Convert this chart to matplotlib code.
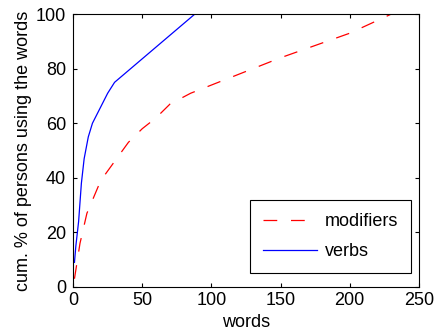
import matplotlib
matplotlib.use("Agg")
import matplotlib.pyplot as plt

# veriler
verbs_x = [1, 2, 4, 6, 8, 11, 14, 17, 20, 25, 30, 88]
verbs_y = [9, 15, 24, 38, 47, 55, 60, 63, 66, 71, 75, 100]

mod_x = [1, 5, 10, 20, 30, 40, 50, 60, 70, 85, 100, 150, 200, 230]
mod_y = [3, 16, 27, 39, 46, 53, 58, 62, 67, 71, 74, 84, 93, 100]

x_ticks = [0, 50, 100, 150, 200, 250]
y_ticks = [0, 20, 40, 60, 80, 100]

plt.rcParams['font.family'] = ['Liberation Sans', 'DejaVu Sans']

fig = plt.figure(figsize=(4.35, 3.36), dpi=100)
ax = fig.add_axes([0.168, 0.146, 0.795, 0.812])

ax.plot(mod_x, mod_y, color='red', linestyle=(0, (11, 11)), linewidth=0.9, label='modifiers')
ax.plot(verbs_x, verbs_y, color='blue', linewidth=0.9, label='verbs')

ax.set_xlim(0, 250)
ax.set_ylim(0, 100)
ax.set_xticks(x_ticks)
ax.set_yticks(y_ticks)
ax.tick_params(direction='in', top=True, right=True, labelsize=13, length=3)
ax.tick_params(axis='x', pad=4)
ax.tick_params(axis='y', pad=5)

ax.set_xlabel('words', fontsize=13, labelpad=3)
ax.set_ylabel('cum. % of persons using the words', fontsize=13, labelpad=3)

leg = ax.legend(loc='lower right', bbox_to_anchor=(0.977, 0.051), borderaxespad=0,
                fontsize=13, fancybox=False, edgecolor='black', framealpha=1,
                handlelength=3.0, handletextpad=0.45, labelspacing=0.75, borderpad=0.7)
leg.get_frame().set_linewidth(0.8)

fig.savefig('out.png', dpi=100)
